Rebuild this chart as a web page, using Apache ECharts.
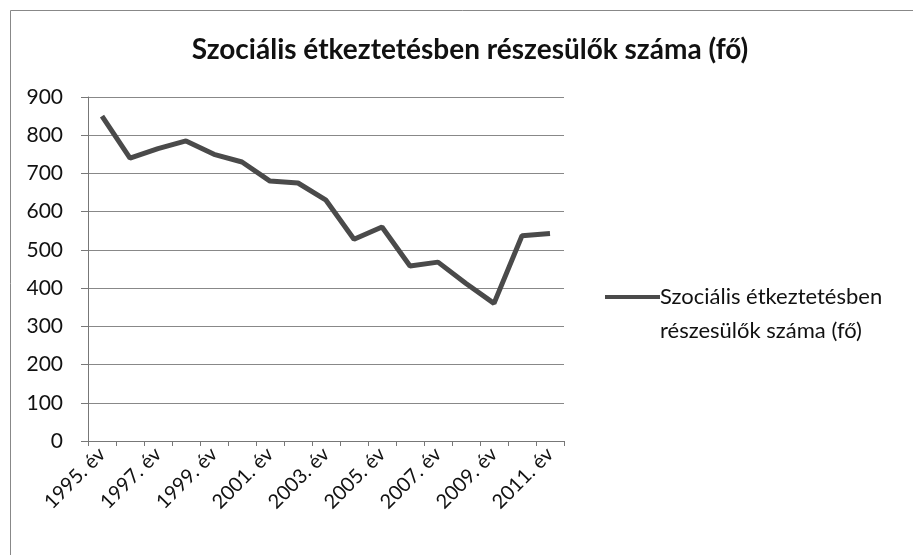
<!DOCTYPE html>
<html>
<head>
<meta charset="utf-8">
<script src="https://cdn.jsdelivr.net/npm/echarts@6/dist/echarts.min.js"></script>
<style>
html,body{margin:0;padding:0;background:#fff;}
#main{width:913px;height:555px;}
</style>
</head>
<body>
<div id="main"></div>
<script>
var titleText = 'Szociális étkeztetésben részesülők száma (fő)';
var seriesName = 'Szociális étkeztetésben részesülők száma (fő)';
var legendLine1 = 'Szociális étkeztetésben';
var legendLine2 = 'részesülők száma (fő)';
var categories = ['1995. év','1996. év','1997. év','1998. év','1999. év','2000. év','2001. év','2002. év','2003. év','2004. év','2005. év','2006. év','2007. év','2008. év','2009. év','2010. év','2011. év'];
var values = [850, 740, 765, 785, 750, 730, 680, 675, 630, 528, 560, 458, 468, 412, 360, 537, 543];
var yMin = 0, yMax = 900, yInterval = 100;

var fontFam = 'Lato, "Open Sans", sans-serif';
var chart = echarts.init(document.getElementById('main'));
chart.setOption({
  backgroundColor: '#fff',
  animation: false,
  title: {
    text: titleText,
    left: 465, top: 31, textAlign: 'center',
    textStyle: {fontFamily: fontFam, fontSize: 28, fontWeight: 'bold', color: '#111'}
  },
  graphic: [{
    type: 'rect', shape: {x: 10.5, y: 10.5, width: 1000, height: 1000},
    style: {fill: null, stroke: '#888', lineWidth: 1}, silent: true
  }],
  legend: {
    orient: 'vertical', left: 600, top: 241,
    itemWidth: 55, itemHeight: 4, itemGap: 0,
    icon: 'rect',
    data: [seriesName],
    formatter: function(){ return '\n' + legendLine1 + '\n' + legendLine2; },
    textStyle: {fontFamily: fontFam, fontSize: 22, color: '#111', lineHeight: 34, padding: [0,0,0,-5]}
  },
  grid: {left: 88, right: 349, top: 97, bottom: 114},
  xAxis: {
    type: 'category', data: categories, boundaryGap: true,
    axisLine: {lineStyle: {color: '#777', width: 1}},
    axisTick: {show: true, interval: 0, length: 5, lineStyle: {color: '#777'}},
    axisLabel: {interval: 1, rotate: 45, margin: 10, fontFamily: fontFam, fontSize: 20, color: '#111'},
    splitLine: {show: false}
  },
  yAxis: {
    type: 'value', min: yMin, max: yMax, interval: yInterval,
    axisLine: {show: true, lineStyle: {color: '#777', width: 1}},
    axisTick: {show: true, length: 7, lineStyle: {color: '#777'}},
    axisLabel: {margin: 25, fontFamily: fontFam, fontSize: 21, color: '#111'},
    splitLine: {show: true, lineStyle: {color: '#888', width: 1}}
  },
  series: [{
    name: seriesName, type: 'line', data: values,
    symbol: 'none', smooth: false,
    lineStyle: {color: '#4a4a4a', width: 5},
    itemStyle: {color: '#4a4a4a'}
  }]
});
</script>
</body>
</html>
